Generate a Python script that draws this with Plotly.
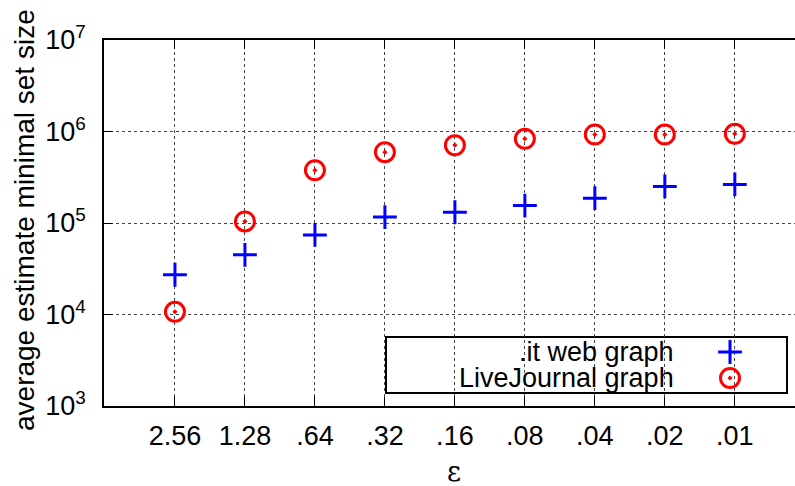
import plotly.graph_objects as go

# epsilon values on the horizontal axis
eps_labels = ["2.56", "1.28", ".64", ".32", ".16", ".08", ".04", ".02", ".01"]

# average estimated minimal set size per epsilon
it_web = [27200, 44900, 74100, 116000, 131000, 155000, 187000, 251000, 264000]
livejournal = [10700, 104000, 377000, 594000, 708000, 832000, 927000, 927000, 944000]

series_names = [".it web graph", "LiveJournal graph"]

# y-axis decades and their labels
y_ticks = [1e3, 1e4, 1e5, 1e6, 1e7]
y_ticktext = ["10<sup>3</sup>", "10<sup>4</sup>", "10<sup>5</sup>", "10<sup>6</sup>", "10<sup>7</sup>"]

FONT = "Liberation Sans, Arial, sans-serif"
FS = 27
BLUE = "#0000ff"
RED = "#ff0000"

W, H = 795, 486
ML, MR, MT, MB = 104, 0, 40, 80
PW, PH = W - ML - MR, H - MT - MB

plus_marker = dict(symbol="cross-thin-open", size=17, color=BLUE,
                   line=dict(color=BLUE, width=3))
ring_marker = dict(symbol="circle-open-dot", size=19, color=RED,
                   line=dict(color=RED, width=3))

fig = go.Figure()

xs = list(range(len(eps_labels)))
fig.add_trace(go.Scatter(x=xs, y=it_web, mode="markers", name=series_names[0],
                         marker=plus_marker, showlegend=False))
fig.add_trace(go.Scatter(x=xs, y=livejournal, mode="markers", name=series_names[1],
                         marker=ring_marker, showlegend=False))


def px_x(px):
    return (px - ML) / PW


def px_y(py):
    return (H - MB - py) / PH


# key box, drawn above the grid but below the markers
box = dict(x0=386, x1=787, y0=337, y1=393)
fig.add_shape(type="rect", xref="paper", yref="paper",
              x0=px_x(box["x0"]), x1=px_x(box["x1"]),
              y0=px_y(box["y1"]), y1=px_y(box["y0"]),
              fillcolor="white", line=dict(color="black", width=2), layer="between")

key_rows = [352, 378]
key_sym_x = 730
key_text_x = 675

# key symbols on an overlay axis spanning the plot area in [0, 1]
for marker, row in zip([plus_marker, ring_marker], key_rows):
    fig.add_trace(go.Scatter(
        x=[px_x(key_sym_x)], y=[px_y(row)], mode="markers", xaxis="x2", yaxis="y2",
        marker=marker, showlegend=False, hoverinfo="skip",
    ))
for name, row in zip(series_names, key_rows):
    fig.add_annotation(xref="paper", yref="paper", x=px_x(key_text_x), y=px_y(row),
                       text=name, showarrow=False, xanchor="right", yanchor="middle",
                       borderpad=0,
                       font=dict(family=FONT, size=FS, color="black"))

# axis titles
fig.add_annotation(xref="paper", yref="paper", x=px_x(24), y=px_y(220),
                   text="average estimate minimal set size", textangle=-90,
                   showarrow=False, xanchor="center", yanchor="middle",
                   font=dict(family=FONT, size=28, color="black"))
fig.add_annotation(xref="paper", yref="paper", x=px_x(454), y=px_y(471),
                   text="ε", showarrow=False, xanchor="center", yanchor="middle",
                   font=dict(family="DejaVu Serif, serif", size=FS, color="black"))

fig.update_layout(
    width=W, height=H,
    margin=dict(l=ML, r=MR, t=MT, b=MB, pad=0),
    paper_bgcolor="white", plot_bgcolor="white",
    font=dict(family=FONT, size=FS, color="black"),
    xaxis=dict(
        range=[-1.014, 8.86], tickmode="array",
        tickvals=xs, ticktext=eps_labels,
        showgrid=True, gridcolor="#444", griddash="dot", gridwidth=1,
        showline=True, linecolor="black", linewidth=1.5, mirror="ticks",
        ticks="inside", ticklen=9, tickcolor="black", tickwidth=1,
        zeroline=False, ticklabelstandoff=5,
        tickfont=dict(family=FONT, size=FS),
    ),
    yaxis=dict(
        type="log", range=[3, 7], tickmode="array",
        tickvals=y_ticks, ticktext=y_ticktext,
        showgrid=True, gridcolor="#444", griddash="dot", gridwidth=1,
        showline=True, linecolor="black", linewidth=1.5,
        ticks="inside", ticklen=9, tickcolor="black", tickwidth=1,
        zeroline=False, ticklabelstandoff=11,
        tickfont=dict(family=FONT, size=FS),
    ),
    xaxis2=dict(overlaying="x", range=[0, 1], visible=False),
    yaxis2=dict(overlaying="y", range=[0, 1], visible=False),
)

fig.write_html("out.html")
